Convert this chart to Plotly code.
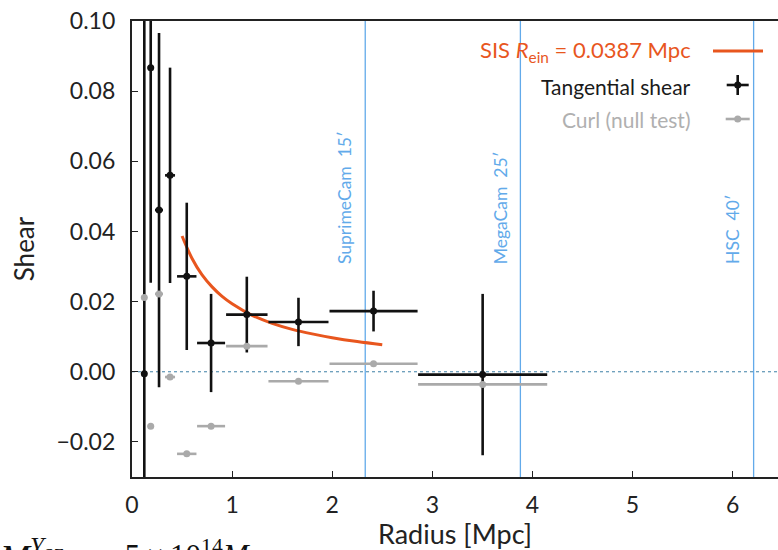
import plotly.graph_objects as go

# ---------------- data ----------------
radius = [0.123, 0.187, 0.27, 0.38, 0.547, 0.79, 1.147, 1.663, 2.413, 3.503]
radius_err = [0.02, 0.03, 0.04, 0.05, 0.097, 0.14, 0.207, 0.30, 0.44, 0.645]
tangential = [-0.0006, 0.0867, 0.0461, 0.0560, 0.0272, 0.0082, 0.0163, 0.0142, 0.0173, -0.0008]
tangential_err = [0.13, 0.0613, 0.0505, 0.0307, 0.021, 0.014, 0.0108, 0.0069, 0.0058, 0.023]
curl = [0.0212, -0.0155, 0.0222, -0.0015, -0.0234, -0.0155, 0.0073, -0.0027, 0.0023, -0.0036]

sis_r = [0.50, 0.60, 0.70, 0.80, 0.90, 1.00, 1.20, 1.40, 1.60, 1.80, 2.00, 2.25, 2.50]
sis_shear = [0.0387, 0.0323, 0.0276, 0.0242, 0.0215, 0.0194, 0.0161, 0.0138, 0.0121, 0.0108, 0.0097, 0.0086, 0.0077]

fov_names = ["SuprimeCam  15′", "MegaCam  25′", "HSC  40′"]
fov_radius = [2.33, 3.88, 6.21]

x_ticks = [0, 1, 2, 3, 4, 5, 6]
y_ticks = [-0.02, 0.00, 0.02, 0.04, 0.06, 0.08, 0.10]

# ---------------- style ----------------
FONT = "Lato"
ORANGE = "#e8561e"
BLUE = "#62aaea"
GRAY = "#aaaaaa"
BLACK = "#111111"
W, H = 778, 550
ML, MR, MT, MB = 132, 0, 21, 73
PW, PH = W - ML - MR, H - MT - MB


def px2paper(px, py):
    return (px - ML) / PW, (H - MB - py) / PH


fig = go.Figure()

fig.add_trace(go.Scatter(x=sis_r, y=sis_shear, mode="lines",
                         line=dict(color=ORANGE, width=3, shape="spline"),
                         showlegend=False, hoverinfo="skip"))

fig.add_trace(go.Scatter(x=radius, y=tangential, mode="markers",
                         marker=dict(color=BLACK, size=7),
                         error_y=dict(type="data", array=tangential_err, color=BLACK, thickness=2.6, width=0),
                         error_x=dict(type="data", array=radius_err, color=BLACK, thickness=2.6, width=0),
                         showlegend=False))

fig.add_trace(go.Scatter(x=radius, y=curl, mode="markers",
                         marker=dict(color=GRAY, size=7),
                         error_x=dict(type="data", array=radius_err, color=GRAY, thickness=2.6, width=0),
                         showlegend=False))

shapes = []
# zero line
shapes.append(dict(type="line", xref="paper", x0=0, x1=1, yref="y", y0=0, y1=0,
                   line=dict(color="#3d7fa6", width=1, dash="dot"), layer="below"))
annotations = []
for name, r in zip(fov_names, fov_radius):
    shapes.append(dict(type="line", xref="x", x0=r, x1=r, yref="paper", y0=0, y1=1,
                       line=dict(color=BLUE, width=1.3), layer="below"))
    annotations.append(dict(x=r, y=0.0302, xref="x", yref="y", text=name, textangle=-90,
                            showarrow=False, xanchor="right", yanchor="bottom", xshift=-8,
                            font=dict(family=FONT, size=17.5, color=BLUE)))

# manual legend (text left of symbol, as in the original)
legend_items = [
    ("SIS <i>R</i><sub>ein</sub> = 0.0387 Mpc", ORANGE, 51, 22),
    ("Tangential shear", "#1a1a1a", 86, 21),
    ("Curl (null test)", "#b0b0b0", 120, 21),
]
for text, col, py, fs in legend_items:
    xp, yp = px2paper(693, py)
    annotations.append(dict(x=xp, y=yp, xref="paper", yref="paper", text=text, showarrow=False,
                            xanchor="right", yanchor="middle", font=dict(family=FONT, size=fs, color=col)))

# legend symbols
x0, y0 = px2paper(713, 51)
x1, _ = px2paper(763, 51)
shapes.append(dict(type="line", xref="paper", yref="paper", x0=x0, x1=x1, y0=y0, y1=y0,
                   line=dict(color=ORANGE, width=3)))
cx, cy = px2paper(737.7, 85)
dx, dy = 11 / PW, 10 / PH
shapes.append(dict(type="line", xref="paper", yref="paper", x0=cx - dx, x1=cx + dx, y0=cy, y1=cy,
                   line=dict(color=BLACK, width=2.6)))
shapes.append(dict(type="line", xref="paper", yref="paper", x0=cx, x1=cx, y0=cy - dy, y1=cy + dy,
                   line=dict(color=BLACK, width=2.6)))
rx, ry = 3.5 / PW, 3.5 / PH
shapes.append(dict(type="circle", xref="paper", yref="paper", x0=cx - rx, x1=cx + rx, y0=cy - ry, y1=cy + ry,
                   fillcolor=BLACK, line=dict(width=0)))
gx, gy = px2paper(737.7, 119)
gdx = 12 / PW
shapes.append(dict(type="line", xref="paper", yref="paper", x0=gx - gdx, x1=gx + gdx, y0=gy, y1=gy,
                   line=dict(color=GRAY, width=2.6)))
shapes.append(dict(type="circle", xref="paper", yref="paper", x0=gx - rx, x1=gx + rx, y0=gy - ry, y1=gy + ry,
                   fillcolor=GRAY, line=dict(width=0)))

# cropped caption text at the bottom of the image (two pieces)
c1x, c1y = px2paper(-3, 531)
annotations.append(dict(x=c1x, y=c1y, xref="paper", yref="paper",
                        text="<i>M</i><sup><i>Y</i><sub>SZ</sub></sup>",
                        showarrow=False, xanchor="left", yanchor="top",
                        font=dict(family="Liberation Serif", size=36, color="#111111")))
c2x, c2y = px2paper(99, 532)
annotations.append(dict(x=c2x, y=c2y, xref="paper", yref="paper",
                        text="=&#8201;5&#8201;×&#8201;10<sup>14</sup><i>M</i>",
                        showarrow=False, xanchor="left", yanchor="top",
                        font=dict(family="Liberation Serif", size=31, color="#111111")))

fig.update_layout(
    width=W, height=H,
    margin=dict(l=ML, r=MR, t=MT, b=MB, pad=0),
    paper_bgcolor="white", plot_bgcolor="white",
    font=dict(family=FONT, color="#222222"),
    shapes=shapes, annotations=annotations,
    showlegend=False,
)
fig.update_xaxes(range=[0, PW / 100.1], tickvals=x_ticks, ticktext=[str(v) for v in x_ticks],
                 showgrid=False, zeroline=False, showline=True, linecolor="#222222", linewidth=2.2,
                 mirror=True, ticks="inside", ticklen=6, tickwidth=1.3, tickcolor="#222222",
                 tickfont=dict(family=FONT, size=23), ticklabelstandoff=6,
                 title=dict(text="Radius [Mpc]", font=dict(family=FONT, size=27), standoff=8))
fig.update_yaxes(range=[-0.03, 0.10], tickvals=y_ticks, tickformat=".2f",
                 showgrid=False, zeroline=False, showline=True, linecolor="#222222", linewidth=2.2,
                 ticks="inside", ticklen=6, tickwidth=1.3, tickcolor="#222222",
                 tickfont=dict(family=FONT, size=23), ticklabelstandoff=10,
                 title=dict(text="Shear", font=dict(family=FONT, size=26), standoff=14))

fig.write_html("out.html")
